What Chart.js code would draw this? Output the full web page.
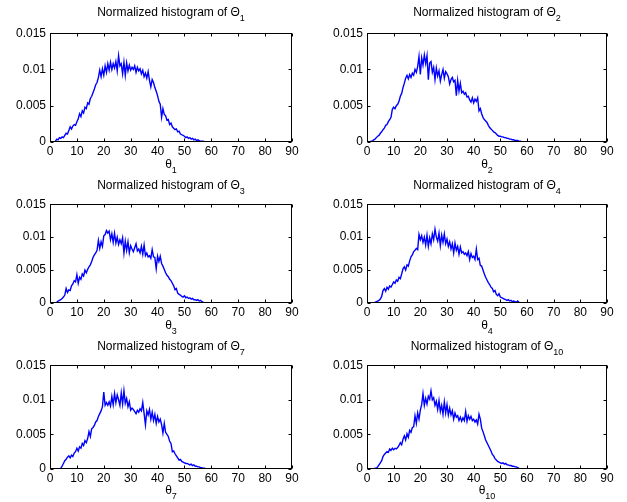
<!DOCTYPE html>
<html><head><meta charset="utf-8">
<script src="https://cdn.jsdelivr.net/npm/chart.js@4"></script>
<style>
html,body{margin:0;padding:0;background:#fff;}
body{width:627px;height:502px;position:relative;overflow:hidden;font-family:"Liberation Sans",Arial,sans-serif;}
.lbl{position:absolute;text-align:center;font-size:12px;line-height:12px;color:#000;white-space:nowrap;}
.lbl sub{font-size:9px;vertical-align:-5px;line-height:0;}
canvas{position:absolute;}
</style></head><body>
<script>
// bin centres (degrees)
const xs=[1,1.5,2,2.5,3,3.5,4,4.5,5,5.5,
6,6.5,7,7.5,8,8.5,9,9.5,10,10.5,
11,11.5,12,12.5,13,13.5,14,14.5,15,15.5,
16,16.5,17,17.5,18,18.5,19,19.5,20,20.5,
21,21.5,22,22.5,23,23.5,24,24.5,25,25.5,
26,26.5,27,27.5,28,28.5,29,29.5,30,30.5,
31,31.5,32,32.5,33,33.5,34,34.5,35,35.5,
36,36.5,37,37.5,38,38.5,39,39.5,40,40.5,
41,41.5,42,42.5,43,43.5,44,44.5,45,45.5,
46,46.5,47,47.5,48,48.5,49,49.5,50,50.5,
51,51.5,52,52.5,53,53.5,54,54.5,55,55.5,
56,56.5,57,57.5,58,58.5,59];

// normalized histogram values, in thousandths (x 0.001)
const theta1=[0,0,0.1,0.4,0.3,0.6,0.5,0.7,0.6,0.9,
1.2,1.1,1.6,2.1,1.8,2.2,2.4,2.3,2.8,3.2,
3.9,3.5,4.3,4.0,4.8,4.6,5.4,5.2,6.0,6.3,
6.8,7.3,7.9,8.2,8.9,9.9,9.0,10.1,9.2,10.5,
9.6,10.8,9.9,11.0,10.0,10.8,10.2,11.1,9.8,11.9,
10.5,10.8,9.4,11.0,9.2,10.9,9.8,10.6,9.9,10.3,
10.0,10.5,9.6,10.3,9.8,10.1,9.4,9.9,9.0,9.5,
8.8,9.7,8.5,7.6,8.6,8.2,7.5,7.0,6.4,5.6,
5.2,3.4,4.6,3.8,3.6,3.0,3.1,2.4,2.6,2.1,
1.9,1.7,1.8,1.4,1.5,1.1,1.0,0.9,0.8,0.6,
0.7,0.5,0.6,0.4,0.5,0.3,0.4,0.2,0.3,0.2,
0.1,0.1,0.1,0.05,0,0,0];

const theta2=[0,0.1,0.1,0.3,0.4,0.6,0.8,0.9,1.2,1.4,
1.7,1.9,2.3,2.4,2.8,3.1,3.4,4.5,4.8,4.6,
5.0,5.2,5.6,6.3,6.7,7.5,8.1,8.8,9.2,8.7,
9.3,8.9,9.5,9.2,10.0,9.6,10.4,11.8,9.3,11.6,
10.6,12.0,10.8,11.9,8.6,10.9,11.1,9.6,10.3,8.6,
10.2,9.1,9.8,8.4,9.3,10.0,8.8,9.7,9.4,9.0,
8.0,8.6,8.9,8.3,8.5,6.4,8.5,7.0,8.1,6.8,
7.0,6.6,6.8,6.2,6.3,5.8,5.5,6.1,5.4,5.9,
5.6,6.1,4.3,4.6,3.9,3.4,3.1,2.9,2.7,2.3,
2.0,1.8,1.6,1.4,1.3,1.1,0.9,0.8,0.8,0.7,
0.7,0.6,0.6,0.5,0.5,0.4,0.4,0.3,0.3,0.2,
0.2,0.2,0.1,0.1,0.05,0,0];

const theta3=[0,0,0,0.1,0.3,0.4,0.5,0.7,0.9,1.2,
2.2,1.6,2.0,1.9,2.6,2.9,3.4,3.2,4.3,3.0,
3.9,3.6,4.4,4.1,5.0,4.6,5.1,5.5,5.8,6.3,
6.9,7.3,7.6,8.0,9.5,8.3,9.3,8.6,10.2,10.4,
11.0,10.6,10.9,9.6,10.5,9.2,10.6,9.1,10.0,8.9,
9.6,9.0,9.9,7.6,9.4,8.0,9.3,7.6,8.7,8.2,
7.8,8.4,9.0,7.9,8.2,7.6,8.6,7.4,8.8,7.2,
7.6,7.0,7.2,6.8,8.1,7.0,6.9,5.2,7.1,6.3,
7.1,6.0,5.6,5.1,4.6,4.2,4.0,3.6,3.4,3.0,
2.6,2.0,2.2,1.5,1.3,1.2,1.0,0.9,1.1,0.8,
0.9,0.7,0.8,0.6,0.7,0.5,0.5,0.4,0.5,0.3,
0.4,0.2,0.1,0,0,0,0];

const theta4=[0,0,0,0,0.1,0.2,0.3,0.4,0.6,1.0,
1.9,2.2,1.8,2.4,2.1,2.6,2.4,2.8,3.2,3.0,
3.5,3.3,3.9,3.7,4.4,5.2,5.5,5.0,5.8,5.6,
6.4,7.0,7.3,7.8,8.0,8.3,8.1,10.4,9.6,10.2,
9.2,10.0,8.8,10.3,8.6,9.9,9.0,10.5,9.6,11.2,
10.0,9.4,10.6,8.7,10.3,9.2,10.5,9.0,9.7,8.6,
9.3,8.2,9.0,7.6,9.1,8.0,8.6,7.4,8.5,7.6,
7.8,7.4,7.6,7.2,7.8,6.6,7.5,6.9,7.1,6.6,
8.2,6.6,6.8,5.7,5.6,5.0,4.4,3.9,3.5,3.1,
2.8,2.4,2.2,1.7,1.9,1.3,1.1,1.4,0.9,0.8,
0.7,0.6,0.5,0.4,0.5,0.3,0.4,0.2,0.3,0.2,
0.1,0.3,0.1,0,0,0,0];

const theta7=[0,0,0,0,0,0,0.1,0.4,0.8,1.2,
1.4,1.7,1.9,1.6,2.0,1.8,2.3,2.5,3.0,2.6,
3.2,3.0,3.7,3.4,4.1,3.8,4.4,5.4,4.7,5.8,
6.0,6.3,6.8,7.0,7.6,8.0,8.4,9.0,11.1,9.2,
9.6,9.2,9.7,9.1,10.5,9.3,10.9,9.6,10.7,10.0,
9.2,11.0,9.4,11.3,9.5,10.2,9.0,9.7,8.5,8.8,
8.6,8.3,8.0,8.5,8.2,8.7,8.4,9.6,8.0,6.4,
8.4,7.8,8.6,7.2,8.2,7.0,7.9,6.6,7.6,6.8,
7.2,6.4,5.2,6.6,5.3,5.0,4.7,4.0,3.7,2.5,
2.6,2.2,1.9,1.6,1.3,1.4,1.1,1.0,0.9,0.8,
0.8,0.7,0.6,0.7,0.5,0.6,0.4,0.4,0.3,0.3,
0.2,0.2,0.1,0.1,0,0,0];

const theta10=[0,0,0,0,0.1,0.1,0.3,0.6,0.9,1.2,
1.8,2.1,2.3,2.5,2.4,2.9,2.7,3.0,2.8,3.0,
2.9,3.1,3.4,3.8,3.5,4.3,4.8,4.2,5.1,4.6,
5.6,5.3,6.0,6.1,7.7,6.6,8.1,7.2,8.5,9.3,
10.9,9.2,10.2,9.4,10.5,10.1,11.3,10.0,10.3,9.2,
9.8,8.6,9.9,8.3,9.2,7.9,9.7,8.1,9.3,7.8,
8.8,7.8,8.4,7.2,8.1,7.5,7.7,7.0,7.5,6.9,
7.4,7.0,8.3,6.9,7.7,7.2,7.6,7.0,7.2,6.8,
7.1,6.5,7.9,7.2,5.9,5.4,4.8,4.2,3.8,3.4,
3.0,2.6,2.1,1.9,1.5,1.3,1.1,1.0,0.9,0.8,
0.9,0.7,0.8,0.6,0.6,0.5,0.5,0.4,0.4,0.3,
0.3,0.2,0.1,0,0,0,0];

const seriesIndex=['1','2','3','4','7','10'];
const seriesValues=[theta1,theta2,theta3,theta4,theta7,theta10];
const xTicks=[0,10,20,30,40,50,60,70,80,90];
const xTickLabels=['0','10','20','30','40','50','60','70','80','90'];
const yTicks=[0,0.005,0.01,0.015];
const yTickLabels=['0','0.005','0.01','0.015'];

// layout (plot-area pixel boxes)
const layout=[
 {left:50, top:32, w:242, h:110, titleBase:15.7, xlabBase:168},
 {left:367,top:32, w:240, h:110, titleBase:15.7, xlabBase:168},
 {left:50, top:203,w:242, h:100, titleBase:189.3,xlabBase:329.3},
 {left:367,top:203,w:240, h:100, titleBase:189.3,xlabBase:329.3},
 {left:50, top:364,w:242, h:105, titleBase:350.5,xlabBase:494.3},
 {left:367,top:364,w:240, h:105, titleBase:350.5,xlabBase:494.3}
];

Chart.defaults.font.family='"Liberation Sans", Arial, sans-serif';
Chart.defaults.font.size=12;
Chart.defaults.color='#000';

const boxPlugin={
  id:'boxTicks',
  afterDraw(chart){
    const {ctx,chartArea:a,scales}=chart;
    ctx.save();
    ctx.strokeStyle='#000';ctx.lineWidth=1;
    const L=Math.round(a.left)+0.5,R=Math.round(a.right)-0.5,T=Math.round(a.top)+0.5,B=Math.round(a.bottom)-0.5;
    ctx.strokeRect(L,T,R-L,B-T);
    ctx.beginPath();
    const tl=3;
    scales.x.ticks.forEach(t=>{
      const px=Math.round(scales.x.getPixelForValue(t.value))+0.5;
      ctx.moveTo(px,B);ctx.lineTo(px,B-tl);
      ctx.moveTo(px,T);ctx.lineTo(px,T+tl);
    });
    scales.y.ticks.forEach(t=>{
      const py=Math.round(scales.y.getPixelForValue(t.value))+0.5;
      ctx.moveTo(L,py);ctx.lineTo(L+tl,py);
      ctx.moveTo(R,py);ctx.lineTo(R-tl,py);
    });
    ctx.stroke();
    ctx.restore();
  }
};

function addLabel(html,left,w,base){
  const d=document.createElement('div');
  d.className='lbl';
  d.style.left=left+'px';d.style.width=w+'px';
  d.style.top=(base-10.2)+'px';
  d.innerHTML=html;
  document.body.appendChild(d);
}

seriesValues.forEach((vals,k)=>{
  const p=layout[k];
  const YW=50,XH=24,PT=10,PR=10;
  const cv=document.createElement('canvas');
  const cw=p.w+YW+PR,ch=p.h+PT+XH;
  cv.width=cw;cv.height=ch;
  cv.style.left=(p.left-YW)+'px';cv.style.top=(p.top-PT)+'px';
  cv.style.width=cw+'px';cv.style.height=ch+'px';
  document.body.appendChild(cv);
  new Chart(cv,{
    type:'line',
    data:{datasets:[{
      data:xs.map((x,i)=>({x:x,y:vals[i]/1000})),
      borderColor:'#0000ff',borderWidth:1.4,pointRadius:0,tension:0,fill:false
    }]},
    options:{
      responsive:false,animation:false,
      layout:{padding:{left:0,top:PT,right:PR,bottom:0}},
      plugins:{legend:{display:false},tooltip:{enabled:false},title:{display:false}},
      scales:{
        x:{type:'linear',min:0,max:90,
          grid:{display:false,drawTicks:false,tickLength:0},border:{display:false},
          afterBuildTicks:s=>{s.ticks=xTicks.map(v=>({value:v}));},
          afterFit:s=>{s.height=XH;},
          ticks:{autoSkip:false,maxRotation:0,padding:2,callback:(v,i)=>xTickLabels[i]}},
        y:{type:'linear',min:0,max:0.015,
          grid:{display:false,drawTicks:false,tickLength:0},border:{display:false},
          afterBuildTicks:s=>{s.ticks=yTicks.map(v=>({value:v}));},
          afterFit:s=>{s.width=YW;},
          ticks:{padding:4,callback:(v,i)=>yTickLabels[i]}}
      }
    },
    plugins:[boxPlugin]
  });
  const n=seriesIndex[k];
  addLabel('Normalized histogram of \u0398<sub>'+n+'</sub>',p.left,p.w,p.titleBase);
  addLabel('\u03B8<sub>'+n+'</sub>',p.left,p.w,p.xlabBase);
});
</script>
</body></html>
